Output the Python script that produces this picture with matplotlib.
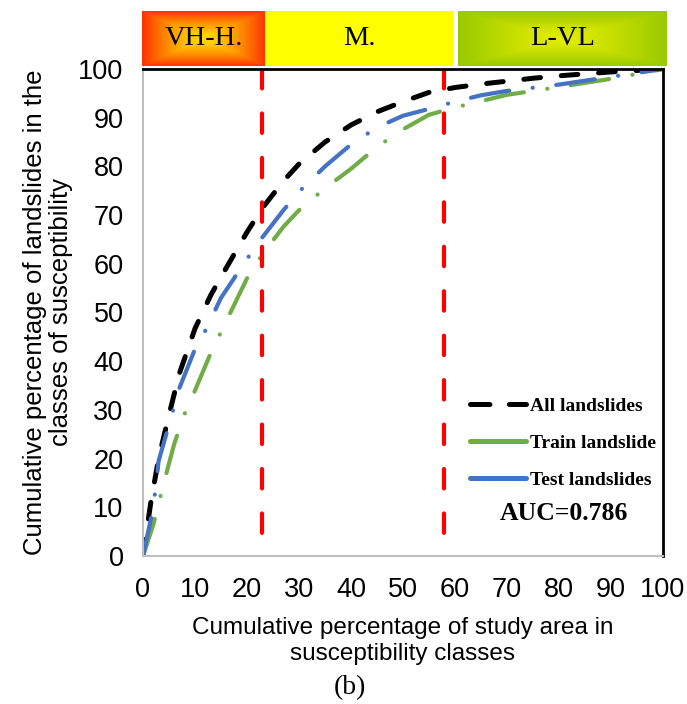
import numpy as np
import matplotlib
matplotlib.use("Agg")
import matplotlib.pyplot as plt
from matplotlib.lines import Line2D

plt.rcParams['font.family'] = ['Liberation Sans', 'DejaVu Sans']
plt.rcParams['lines.scale_dashes'] = False

# curves (x = % of study area, y = % of landslides)
x_all = [0, 1.5, 3, 5, 7, 10, 13, 15, 20, 23, 27, 30, 35, 40, 45, 50, 55, 60, 65, 70, 75, 80, 85, 90, 100]
y_all = [0, 11, 20, 29, 37.5, 46.7, 53.5, 57.3, 66.5, 71.5, 77, 80.5, 85, 88.5, 91.2, 93.3, 95.2, 96.2, 96.9, 97.5, 98.1, 98.6, 99, 99.4, 100]

x_train = [0, 2, 4, 6, 8, 10, 13, 15, 20, 23, 27, 30, 35, 40, 45, 50, 55, 60, 65, 70, 80, 90, 100]
y_train = [0, 6.5, 15, 23, 29.2, 34, 41.6, 46, 57, 62, 67.6, 71, 75.5, 79.5, 84, 87.6, 90.6, 92.1, 93.4, 94.7, 96.3, 98, 100]

x_test = [0, 2, 3, 5, 7, 10, 12, 15, 20, 23, 27, 30, 35, 40, 45, 50, 55, 60, 65, 70, 80, 90, 100]
y_test = [0, 10, 19.5, 27, 34.5, 42.5, 46.3, 53, 61, 65.5, 71, 74.8, 80, 84.5, 88, 90.4, 91.8, 93.3, 94.6, 95.5, 96.8, 98.4, 100]

class_breaks = [22.9, 57.9]
class_names = ['VH-H.', 'M.', 'L-VL']
class_left = [-0.2, 23.5, 60.6]
class_right = [23.5, 59.8, 100.8]

fig = plt.figure(figsize=(6.87, 7.04), dpi=100)
ax = fig.add_axes([143/687, 1-556/704, 520/687, 487/704])

ax.plot(x_all, y_all, color='black', lw=3.6, dashes=(12, 15), dash_capstyle='round')
ax.plot(x_train, y_train, color='#70AD47', lw=3.0, dashes=(28, 17, 0.1, 17), dash_capstyle='round')
ax.plot(x_test, y_test, color='#4472C4', lw=3.0, dashes=(28, 17, 0.1, 17), dash_capstyle='round')

# red class limits, drawn from the top down
for b in class_breaks:
    ax.plot([b, b], [100, 0], color='#FF0000', lw=3.0, dashes=(14, 18),
            dash_capstyle='round', clip_on=True)

ax.set_xlim(0, 100)
ax.set_ylim(0, 100)
ax.set_xticks(np.arange(0, 101, 10))
ax.set_yticks(np.arange(0, 101, 10))
ax.tick_params(length=0, labelsize=19.5, pad=14)
ax.tick_params(axis='x', pad=15)
for s in ['left', 'bottom']:
    ax.spines[s].set_color('#BFBFBF')
    ax.spines[s].set_linewidth(1.5)
for s in ['top', 'right']:
    ax.spines[s].set_color('black')
    ax.spines[s].set_linewidth(2)

ax.set_xlabel('Cumulative percentage of study area in\nsusceptibility classes', fontsize=17.5, labelpad=10, linespacing=1.25)
ax.set_ylabel('Cumulative percentage of landslides in the\nclasses of susceptibility', fontsize=18.5, labelpad=4, linespacing=1.1)

handles = [Line2D([], [], color='black', lw=3.6, dashes=(14, 14), dash_capstyle='round'),
           Line2D([], [], color='#70AD47', lw=3.6, solid_capstyle='round'),
           Line2D([], [], color='#4472C4', lw=3.6, solid_capstyle='round')]
ax.legend(handles, ['All landslides', 'Train landslide', 'Test landslides'],
          loc='upper left', bbox_to_anchor=(0.595, 0.362), frameon=False,
          handlelength=2.9, handletextpad=0.2, labelspacing=1.0,
          prop={'family': 'Liberation Serif', 'weight': 'bold', 'size': 14})
ax.text(81, 8.8, 'AUC=0.786', ha='center', va='center', fontsize=18.5,
        family='Liberation Serif', weight='bold')

# class bands above the plot
bx = fig.add_axes([142/687, 1-66/704, 525/687, 55/704])
bx.axis('off')

n = 64
u = np.linspace(-1, 1, n)
dist = np.maximum(np.abs(u)[None, :], np.abs(u)[:, None])
red_grad = np.zeros((n, n, 3))
red_grad[..., 0] = 1.0
red_grad[..., 1] = 0.85 - 0.65 * dist**1.5
green_grad = np.zeros((n, n, 3))
green_grad[..., 0] = 0.90 - 0.30 * dist**1.2
green_grad[..., 1] = 0.93 - 0.14 * dist**1.2

bx.imshow(red_grad, extent=[class_left[0], class_right[0], 0, 1], aspect='auto', interpolation='bilinear')
bx.fill_between([class_left[1], class_right[1]], 0, 1, color='#FFFF00', lw=0)
bx.imshow(green_grad, extent=[class_left[2], class_right[2], 0, 1], aspect='auto', interpolation='bilinear')
bx.set_xlim(-0.2, 100.8)
bx.set_ylim(0, 1)

for name, l, r in zip(class_names, class_left, class_right):
    bx.text((l + r) / 2, 0.5, name, ha='center', va='center', fontsize=20.5,
            family='Liberation Serif')

fig.text(350/687, 1-688/704, '(b)', ha='center', va='center', fontsize=20, family='Liberation Serif')

fig.savefig('out.png', dpi=100)
